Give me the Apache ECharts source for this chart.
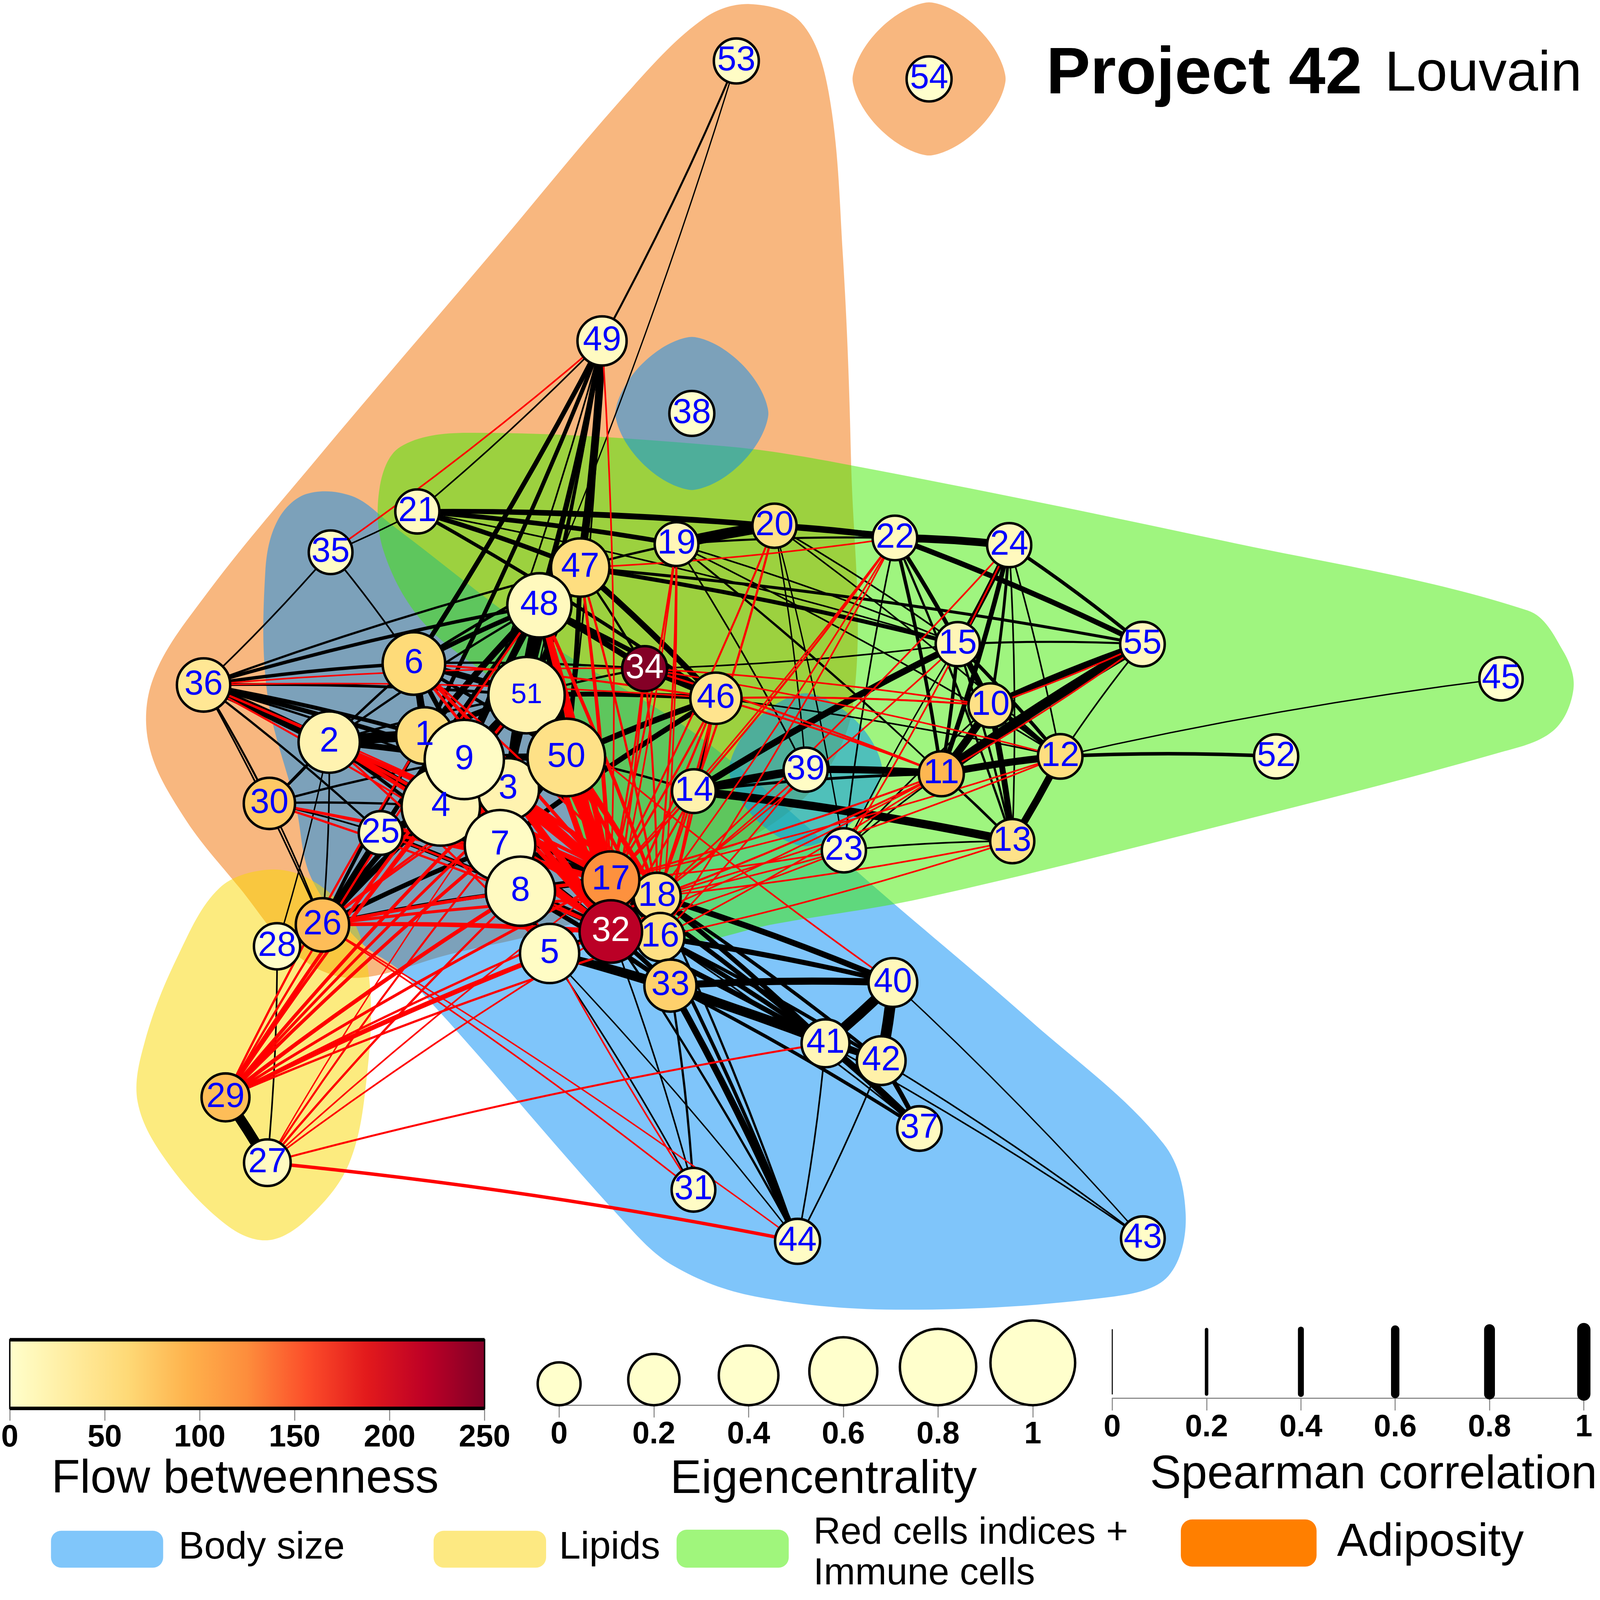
<!DOCTYPE html>
<html>
<head>
<meta charset="utf-8">
<script src="https://cdn.jsdelivr.net/npm/echarts@6/dist/echarts.min.js"></script>
<style>
  html, body { margin: 0; padding: 0; background: #fff; overflow: hidden; }
  #chart { width: 100vw; height: 100vh; }
</style>
</head>
<body>
<div id="chart"></div>
<script>
var FONT = "'Liberation Sans', Arial, Helvetica, sans-serif";

// nodes in drawing order (later ones sit on top)
const nodeIds = [53, 54, 49, 38, 21, 35, 19, 20, 22, 24, 15, 55, 45, 52, 10, 12, 11, 13, 39, 14,
  23, 36, 30, 2, 25, 28, 26, 29, 27, 6, 47, 48, 34, 46, 51, 1, 3, 4, 9, 50,
  7, 8, 18, 17, 16, 33, 32, 5, 40, 41, 42, 37, 31, 44, 43];
// layout coordinates
const nodeX = [721.6, 910.5, 590, 678, 409, 324, 663, 759, 877, 989, 938.6, 1119.6, 1471, 1250.6, 970.7, 1039, 922.5, 992, 789.5, 680,
  827, 199.5, 264, 322.6, 373, 271.5, 316, 221, 262, 405.6, 568.6, 528.6, 631.7, 701.6, 516, 416, 498, 432, 455, 555,
  490, 510, 644, 598.6, 647, 657, 598.6, 538.6, 875, 809, 863.6, 901, 679.6, 781.6, 1120];
const nodeY = [59.7, 77.3, 334, 405, 501, 541, 533, 515, 527, 534, 631, 631, 665, 741, 691, 741, 758, 824, 754, 775,
  833, 671, 787, 727, 816, 927, 906, 1075, 1139, 650, 556, 593, 655, 684, 681, 720.6, 773, 790, 744, 742,
  828, 873, 878, 862, 918, 965.5, 912.5, 934, 962.5, 1022, 1039, 1105.5, 1165.5, 1216, 1213];
const flowBetweenness = [5, 0, 8, 0, 8, 5, 15, 50, 10, 10, 15, 10, 0, 5, 50, 55, 90, 48, 5, 22,
  5, 40, 75, 20, 5, 3, 85, 85, 8, 60, 55, 10, 248, 45, 20, 55, 20, 15, 5, 50,
  5, 8, 50, 122, 52, 70, 220, 5, 12, 15, 25, 8, 5, 5, 3];
const eigencentrality = [0.05, 0.05, 0.15, 0.05, 0.03, 0.02, 0.02, 0.03, 0.04, 0.03, 0.03, 0.04, 0.01, 0.03, 0.03, 0.04, 0.05, 0.03, 0.03, 0.02,
  0.03, 0.25, 0.2, 0.44, 0.02, 0.08, 0.25, 0.12, 0.09, 0.47, 0.37, 0.51, 0.05, 0.2, 0.8, 0.33, 0.45, 0.85, 0.87, 0.83,
  0.66, 0.63, 0.1, 0.34, 0.13, 0.22, 0.47, 0.39, 0.14, 0.12, 0.14, 0.04, 0.02, 0.05, 0.02];

// [from, to, Spearman rho]
const edges = [
  [53,49,.08],[53,48,.02],
  [49,21,.05],[49,6,.3],[49,1,.25],[49,48,.35],[49,47,.55],[49,51,.15],[49,50,.05],[49,9,.05],[49,3,.03],
  [21,35,.04],[21,20,.3],[21,19,.3],[21,22,.2],[21,47,.3],[21,46,.2],[21,15,.05],[21,24,.05],
  [35,36,.05],[35,6,.05],
  [36,6,.2],[36,48,.2],[36,47,.1],[36,51,.15],[36,1,.25],[36,9,.3],[36,2,.45],[36,4,.5],[36,25,.1],[36,30,.08],[36,26,.05],[36,3,.1],
  [6,48,.3],[6,47,.15],[6,51,.45],[6,1,.5],[6,9,.3],[6,4,.15],[6,50,.2],[6,34,.1],
  [2,1,.8],[2,9,.4],[2,4,.45],[2,26,.05],[2,28,.03],[2,51,.1],[2,6,.08],[2,48,.1],[2,30,.04],[2,7,.3],[2,8,.2],
  [30,26,.05],[30,4,.1],[30,9,.1],[30,6,.05],[30,25,.05],
  [25,26,.4],[25,4,.2],[25,7,.35],[25,8,.3],
  [26,4,.45],[26,9,.35],[26,8,.25],[26,7,.3],[26,1,.2],[26,48,.3],[26,51,.15],[26,28,.05],
  [28,27,.05],[29,27,.75],
  [1,9,.6],[1,4,.5],[1,51,.4],[1,48,.45],[1,3,.3],
  [4,9,.8],[3,9,.6],[3,4,.5],[3,48,.6],[3,51,.6],[3,50,.7],[9,51,.6],[9,48,.5],[4,48,.4],[4,51,.5],[9,50,.5],[4,50,.3],
  [7,8,.8],[7,4,.6],[7,9,.5],[7,3,.5],[8,4,.5],[8,9,.4],[7,50,.3],[8,3,.3],
  [48,51,.7],[48,50,.6],[51,50,.6],[47,48,.6],[47,51,.4],[47,50,.3],
  [48,34,.4],[48,46,.3],[51,46,.3],[50,46,.4],[7,46,.35],[47,46,.4],[34,46,.45],[51,34,.1],[47,34,.1],
  [47,15,.25],[47,55,.15],[47,19,.1],
  [46,14,.1],[50,14,.1],[14,15,.45],[14,39,.6],[39,11,.5],[14,13,.6],[14,11,.15],
  [19,20,.8],[20,22,.4],[19,22,.08],[22,24,.55],[22,55,.35],[22,15,.25],[22,11,.2],[22,10,.1],[22,13,.1],
  [24,15,.35],[24,11,.3],[24,10,.15],[24,12,.05],[24,13,.05],[24,55,.2],
  [15,55,.08],[15,10,.4],[15,11,.2],[15,12,.2],[15,13,.1],[15,34,.05],
  [10,55,.45],[11,55,.7],[12,55,.05],[10,12,.3],[10,11,.55],[10,13,.4],[11,12,.5],[11,13,.1],[12,13,.5],[12,52,.2],[12,45,.03],
  [23,11,.05],[23,10,.05],[23,22,.05],[23,13,.05],[23,15,.03],
  [19,12,.05],[19,13,.03],[19,39,.05],[19,15,.05],[19,11,.05],[20,12,.05],[20,23,.03],[20,39,.03],[20,15,.05],
  [46,12,.05],[46,10,.05],
  [5,33,.5],[5,41,.4],[5,31,.05],[5,44,.03],[5,32,.3],[5,8,.3],
  [33,40,.5],[33,41,.5],[33,42,.3],[33,44,.45],[33,31,.1],[33,37,.2],[33,16,.3],
  [16,40,.3],[16,41,.3],[16,42,.2],[16,44,.2],[16,37,.05],
  [18,40,.4],[18,41,.3],[18,42,.2],[18,44,.1],[18,33,.3],
  [17,40,.2],[17,41,.3],[32,40,.2],[32,41,.3],[32,33,.3],[32,44,.1],[32,31,.05],
  [8,17,.5],[8,32,.5],[7,17,.4],[7,32,.3],[8,33,.3],[8,41,.2],[4,17,.2],
  [17,18,.3],[17,16,.3],[32,16,.4],[18,16,.5],[32,17,.5],
  [40,41,.75],[40,42,.8],[41,42,.4],[41,37,.5],[42,37,.3],
  [41,44,.05],[42,44,.05],[42,43,.05],[41,43,.05],[40,43,.03],
  // negative correlations
  [29,9,-.2],[29,3,-.2],[29,7,-.2],[29,8,-.25],[29,50,-.15],[29,51,-.15],[29,48,-.1],[29,17,-.15],[29,32,-.15],[29,5,-.25],[29,18,-.1],[29,16,-.1],[29,1,-.1],[29,4,-.15],
  [27,44,-.2],[27,41,-.08],[27,8,-.1],[27,7,-.08],[27,32,-.05],[27,17,-.05],[27,3,-.03],
  [26,17,-.2],[26,32,-.2],[26,18,-.15],[26,16,-.15],[26,31,-.05],[26,44,-.03],[26,50,-.1],[26,3,-.1],
  [30,17,-.1],[30,32,-.1],[30,18,-.08],
  [36,17,-.08],[36,32,-.08],[36,18,-.05],[36,34,-.05],[36,46,-.05],
  [2,17,-.25],[2,32,-.25],[2,18,-.2],[2,16,-.2],[2,5,-.1],
  [25,17,-.15],[25,18,-.1],[25,32,-.1],
  [1,17,-.3],[1,32,-.25],[9,17,-.5],[9,32,-.4],[4,18,-.3],[4,32,-.3],
  [3,17,-.6],[3,32,-.5],[3,18,-.3],
  [6,17,-.2],[6,32,-.15],[6,18,-.1],[6,46,-.08],
  [51,17,-.6],[51,32,-.4],[51,18,-.3],
  [50,17,-.5],[50,32,-.4],[50,18,-.3],[50,16,-.2],
  [48,17,-.4],[48,32,-.3],[48,18,-.2],
  [47,17,-.1],[47,18,-.1],[47,32,-.08],
  [49,35,-.05],[49,17,-.05],
  [19,17,-.08],[19,18,-.08],[19,32,-.05],[19,16,-.05],
  [20,17,-.08],[20,14,-.1],
  [22,47,-.05],[22,14,-.08],[22,17,-.05],[22,16,-.05],[22,18,-.05],
  [24,18,-.05],[24,23,-.05],
  [46,17,-.1],[46,32,-.1],[46,18,-.1],[46,16,-.08],[46,10,-.08],[46,11,-.08],
  [34,17,-.08],[34,18,-.08],[34,32,-.08],[34,11,-.08],[34,12,-.05],[34,10,-.05],
  [14,17,-.1],[14,18,-.08],[14,32,-.08],[14,16,-.08],
  [39,18,-.05],[39,16,-.05],
  [11,17,-.08],[11,18,-.08],[11,16,-.05],[11,32,-.05],
  [12,18,-.05],[12,17,-.05],[13,18,-.05],[13,16,-.05],
  [23,17,-.05],[23,32,-.05],[23,18,-.05],
  [15,18,-.05],[55,11,-.05],[55,10,-.05],[40,51,-.05],[31,8,-.05]
];

// community outlines (layout coordinates)
const adiposityHull = [[735,4],[785,22],[812,90],[826,250],[834,450],[836,690],[790,780],[680,850],[560,905],
  [440,935],[345,958],[290,935],[235,870],[180,800],[146,730],[150,665],[200,585],[310,450],[480,250],[620,85],[690,18]];
const bodySizeHull = [[300,484],[345,486],[385,515],[530,625],[690,725],[870,880],[1010,1000],[1140,1120],[1162,1190],
  [1145,1250],[1092,1270],[887,1283],[740,1270],[660,1240],[610,1195],[400,958],[350,920],[305,860],[290,790],[262,680],[260,560],[272,510]];
const redCellsHull = [[372,478],[392,438],[458,424],[709,437],[835,456],[1200,530],[1497,598],[1532,638],[1542,675],
  [1522,716],[1467,738],[1200,808],[904,880],[760,905],[660,925],[620,905],[560,800],[507,690],[415,610],[376,540]];
const lipidsHull = [[262,852],[305,862],[345,900],[362,960],[360,1050],[342,1140],[300,1195],[262,1215],[222,1200],
  [165,1140],[135,1080],[142,1020],[175,935],[215,870]];
// single-node communities: [node, community]
const singletonHulls = [[54, 'Adiposity'], [38, 'Body size'], [39, 'Body size']];

const communities = ['Body size', 'Lipids', 'Red cells indices +\nImmune cells', 'Adiposity'];
const hullColors = {
  'Body size': 'rgba(0,140,245,0.5)',
  'Lipids': 'rgba(250,215,0,0.5)',
  'Red cells': 'rgba(64,235,0,0.5)',
  'Adiposity': 'rgba(241,111,0,0.5)'
};
const swatchColors = ['#80C6FA', '#FDE982', '#A0F67C', '#FF7F00'];

const flowTicks = [0, 50, 100, 150, 200, 250];
const eigenTicks = [0, 0.2, 0.4, 0.6, 0.8, 1];
const corrTicks = [0, 0.2, 0.4, 0.6, 0.8, 1];
const ylOrRd = ['#ffffcc', '#ffeda0', '#fed976', '#feb24c', '#fd8d3c', '#fc4e2a', '#e31a1c', '#bd0026', '#800026'];

var dom = document.getElementById('chart');
var S = Math.min(dom.clientWidth / 4550, dom.clientHeight / 4517);
function px(v) { return v * S; }
var U = px(4550) / 1568;   // one layout unit in px

function nodeSize(e) { return (42 + 41 * e) * U; }
function edgeWidth(r) { return (1 + 12 * Math.abs(r)) * U; }
function flowColor(v) {
  var lo = flowTicks[0], hi = flowTicks[flowTicks.length - 1];
  return echarts.color.lerp(Math.max(0, Math.min(1, (v - lo) / (hi - lo))), ylOrRd);
}

function superellipse(cx, cy, a) {
  var pts = [];
  for (var i = 0; i < 48; i++) {
    var t = i / 48 * Math.PI * 2;
    var c = Math.cos(t), s = Math.sin(t);
    pts.push([cx + a * Math.sign(c) * Math.pow(Math.abs(c), 1.25),
              cy + a * Math.sign(s) * Math.pow(Math.abs(s), 1.25)]);
  }
  return pts;
}

var hulls = [
  { pts: adiposityHull, color: hullColors['Adiposity'] },
  { pts: bodySizeHull, color: hullColors['Body size'] },
  { pts: redCellsHull, color: hullColors['Red cells'] },
  { pts: lipidsHull, color: hullColors['Lipids'] }
];
singletonHulls.forEach(function (s) {
  var i = nodeIds.indexOf(s[0]);
  hulls.push({ pts: superellipse(nodeX[i], nodeY[i], 75), color: hullColors[s[1]] });
});

var nodes = nodeIds.map(function (id, i) {
  return {
    name: String(id),
    value: [nodeX[i], nodeY[i], flowBetweenness[i], eigencentrality[i]],
    symbolSize: nodeSize(eigencentrality[i]),
    itemStyle: { color: flowColor(flowBetweenness[i]) },
    label: {
      color: flowBetweenness[i] > 180 ? '#ffffff' : '#0000ff',
      fontSize: px(id === 51 ? 80 : 98)
    }
  };
});

var links = edges.map(function (e) {
  return {
    source: String(e[0]), target: String(e[1]),
    lineStyle: { width: edgeWidth(e[2]), color: e[2] < 0 ? '#ff0000' : '#000000' }
  };
});

var chart = echarts.init(dom);

var tickLabel = { fontSize: px(88), fontWeight: 'bold', color: '#000', fontFamily: FONT, margin: px(40) };
var tickStyle = { show: true, length: px(35), lineStyle: { color: '#8a8a8a', width: px(3) } };
var baseLine = { show: true, lineStyle: { color: '#777', width: px(3) } };

function txt(x, y, text, size, opts) {
  var st = { text: text, fontSize: px(size), fontFamily: FONT, fill: '#000', align: 'left', verticalAlign: 'middle' };
  for (var k in opts) st[k] = opts[k];
  return { type: 'text', x: px(x), y: px(y), style: st };
}
function swatch(x, y, w, h, r, color) {
  return { type: 'rect', shape: { x: px(x), y: px(y), width: px(w), height: px(h), r: px(r) }, style: { fill: color } };
}

var option = {
  animation: false,
  backgroundColor: '#fff',
  grid: [
    { left: 0, top: 0, width: px(4550), height: px(4517) },
    { left: px(23), top: px(3810), width: px(1355), height: px(195) },
    { left: px(1590), top: px(3700), width: px(1347), height: px(296) },
    { left: px(3163), top: px(3781), width: px(1341), height: px(195) }
  ],
  xAxis: [
    { gridIndex: 0, type: 'value', min: 0, max: 1568, show: false },
    { gridIndex: 1, type: 'value', min: 0, max: 250, interval: 50, axisLine: { show: false },
      axisTick: tickStyle, axisLabel: tickLabel, splitLine: { show: false } },
    { gridIndex: 2, type: 'value', min: 0, max: 1, interval: 0.2, axisLine: baseLine,
      axisTick: tickStyle, axisLabel: tickLabel, splitLine: { show: false } },
    { gridIndex: 3, type: 'value', min: 0, max: 1, interval: 0.2, axisLine: baseLine,
      axisTick: tickStyle, axisLabel: tickLabel, splitLine: { show: false } }
  ],
  yAxis: [
    { gridIndex: 0, type: 'value', min: 0, max: 1556, inverse: true, show: false },
    { gridIndex: 1, type: 'value', min: 0, max: 1, show: false },
    { gridIndex: 2, type: 'value', min: 0, max: 1, show: false },
    { gridIndex: 3, type: 'value', min: 0, max: 1, show: false }
  ],
  graphic: [
    txt(2975, 214, 'Project 42', 188, { fontWeight: 'bold' }),
    txt(3938, 214, 'Louvain', 160),
    txt(697, 4208, 'Flow betweenness', 133, { align: 'center' }),
    txt(2342, 4209, 'Eigencentrality', 133, { align: 'center' }),
    txt(3906, 4196, 'Spearman correlation', 133, { align: 'center' }),
    swatch(145, 4353, 319, 105, 29, swatchColors[0]),
    swatch(1233, 4353, 320, 105, 29, swatchColors[1]),
    swatch(1924, 4350, 319, 108, 29, swatchColors[2]),
    swatch(3358, 4321, 386, 134, 32, swatchColors[3]),
    txt(508, 4402, communities[0], 109),
    txt(1590, 4402, communities[1], 110),
    txt(2313, 4360, communities[2].split('\n')[0], 107),
    txt(2313, 4476, communities[2].split('\n')[1], 107),
    txt(3802, 4388, communities[3], 131)
  ],
  series: [
    {
      type: 'custom', xAxisIndex: 0, yAxisIndex: 0, z: 1, silent: true, clip: false,
      data: hulls.map(function (h, i) { return [i]; }),
      renderItem: function (params, api) {
        var h = hulls[params.dataIndex];
        return {
          type: 'polygon',
          shape: { points: h.pts.map(function (p) { return api.coord(p); }), smooth: 0.35 },
          style: { fill: h.color }
        };
      }
    },
    {
      type: 'graph', coordinateSystem: 'cartesian2d', xAxisIndex: 0, yAxisIndex: 0,
      layout: 'none', z: 3, silent: true,
      symbol: 'circle',
      itemStyle: { borderColor: '#000', borderWidth: px(7), opacity: 1 },
      label: { show: true, position: 'inside', fontFamily: FONT, fontSize: px(98), color: '#0000ff' },
      lineStyle: { curveness: 0.025, opacity: 1 },
      emphasis: { disabled: true },
      data: nodes,
      links: links
    },
    {
      type: 'custom', xAxisIndex: 1, yAxisIndex: 1, silent: true, clip: false,
      data: [[flowTicks[0]]],
      renderItem: function (params, api) {
        var a = api.coord([flowTicks[0], 1]);
        var b = api.coord([flowTicks[flowTicks.length - 1], 0]);
        var stops = ylOrRd.map(function (c, i) { return { offset: i / (ylOrRd.length - 1), color: c }; });
        return {
          type: 'group',
          children: [
            { type: 'rect', shape: { x: a[0], y: a[1], width: b[0] - a[0], height: b[1] - a[1] },
              style: { fill: { type: 'linear', x: 0, y: 0, x2: 1, y2: 0, colorStops: stops }, stroke: '#000', lineWidth: px(4) } },
            { type: 'line', shape: { x1: a[0], y1: a[1], x2: b[0], y2: a[1] }, style: { stroke: '#000', lineWidth: px(10) } },
            { type: 'line', shape: { x1: a[0], y1: b[1], x2: b[0], y2: b[1] }, style: { stroke: '#000', lineWidth: px(10) } }
          ]
        };
      }
    },
    {
      type: 'scatter', xAxisIndex: 2, yAxisIndex: 2, silent: true, clip: false,
      data: eigenTicks.map(function (e) { return [e, 0]; }),
      symbol: 'circle',
      symbolSize: function (v) { return nodeSize(v[0]); },
      symbolOffset: [0, '-50%'],
      itemStyle: { color: flowColor(0), borderColor: '#000', borderWidth: px(7), opacity: 1 }
    },
    {
      type: 'custom', xAxisIndex: 3, yAxisIndex: 3, silent: true, clip: false,
      data: corrTicks.map(function (r) { return [r]; }),
      renderItem: function (params, api) {
        var r = api.value(0);
        var p0 = api.coord([r, 0.06]);
        var p1 = api.coord([r, 1]);
        return {
          type: 'line',
          shape: { x1: p0[0], y1: p0[1], x2: p1[0], y2: p1[1] },
          style: { stroke: '#000', lineWidth: edgeWidth(r), lineCap: 'round' }
        };
      }
    }
  ]
};

chart.setOption(option);
</script>
</body>
</html>
